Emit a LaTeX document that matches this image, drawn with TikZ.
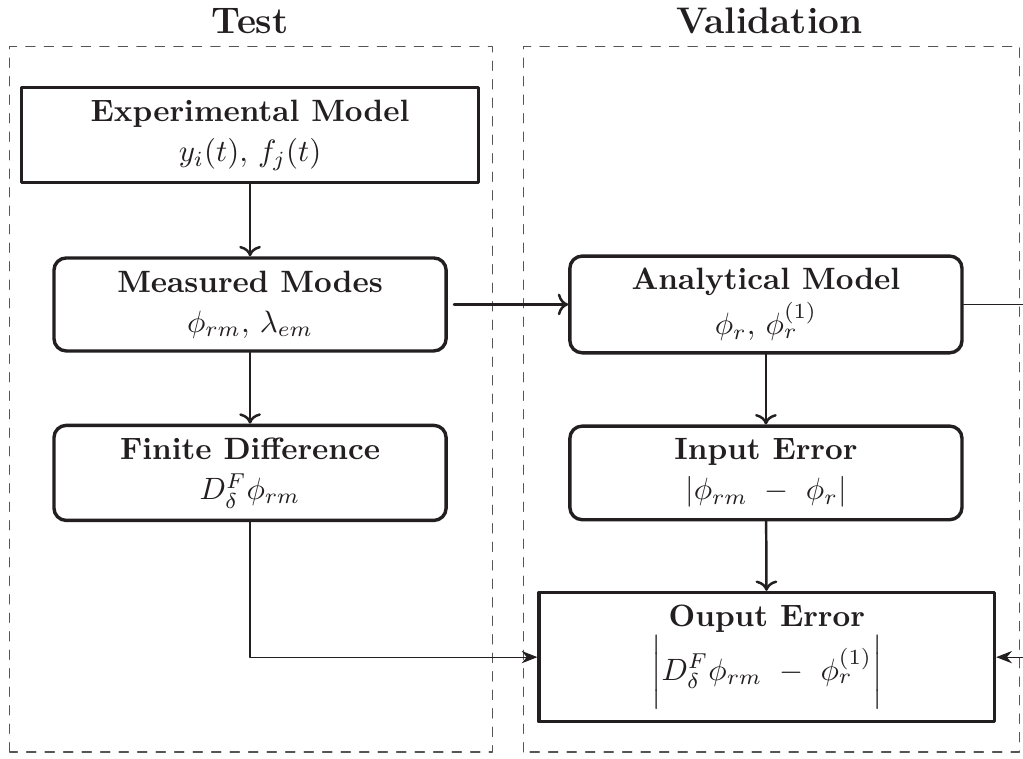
\documentclass[tikz,border=0pt]{standalone}
\usepackage{amsmath,amssymb}
\usepackage{xcolor}
\usepackage{tikz}
\usetikzlibrary{arrows.meta,positioning}
\definecolor{vtInk}{HTML}{231F20}
\definecolor{vtFrame}{HTML}{555555}
\tikzset{
  vt diagram/.style={text=vtInk, line cap=round, line join=round},
  vt box/.style={draw=vtInk, fill=white, line width=1.1pt,
    rounded corners=4pt, align=center, inner sep=4pt,
    minimum width=4.47cm, minimum height=1.06cm},
  vt key box/.style={vt box, rounded corners=0pt},
  vt group/.style={draw=vtFrame, dashed, line width=0.4pt},
  vt title/.style={font=\large\bfseries},
  vt arrow/.style={->, draw=vtInk, line width=0.8pt},
  vt link/.style={-{Stealth[length=1.8mm,width=1.4mm]}, draw=vtInk, line width=0.4pt}
}
\begin{document}
\begin{tikzpicture}[vt diagram]
\useasboundingbox (0,0) rectangle (11.66,8.65);
% groups
\draw[vt group] (0.11,0.08) rectangle (5.61,8.12);
\draw[vt group] (5.97,0.08) rectangle (11.62,8.12);
\node[vt title] (test) at (2.85,8.41) {Test};
\node[vt title] (valid) at (8.77,8.41) {Validation};
% test side
\node[vt key box,minimum width=5.21cm] (exp) at (2.85,7.11) {\textbf{Experimental Model}\\[1pt]$y_i(t),\, f_j(t)$};
\node[vt box] (meas) at (2.85,5.18) {\textbf{Measured Modes}\\[1pt]$\phi_{rm},\, \lambda_{em}$};
\node[vt box] (fd) at (2.85,3.26) {\textbf{Finite Difference}\\[1pt]$D^F_\delta\phi_{rm}$};
% validation side
\node[vt box] (anal) at (8.73,5.18) {\textbf{Analytical Model}\\[1pt]$\phi_r,\, \phi_r^{(1)}$};
\node[vt box] (inerr) at (8.73,3.26) {\textbf{Input Error}\\[1pt]$|\phi_{rm}\ -\ \phi_r|$};
\node[vt key box,minimum width=5.19cm,minimum height=1.43cm] (outerr) at (8.74,1.16)
  {\textbf{Ouput Error}\\$\biggl|D^F_\delta\phi_{rm}\ -\ \phi_r^{(1)}\biggr|$};
\coordinate (loop) at (11.9,5.18);
% connectors
\draw[vt arrow] (exp) -- (meas);
\draw[vt arrow] (meas) -- (fd);
\draw[vt arrow,shorten <=2pt] (meas) -- (anal);
\draw[vt arrow] (anal) -- (inerr);
\draw[vt arrow] (inerr) -- (outerr);
\draw[vt link] (fd.south) |- (outerr.west);
\draw[vt link] (anal.east) -- (loop) |- (outerr.east);
\end{tikzpicture}
\end{document}
